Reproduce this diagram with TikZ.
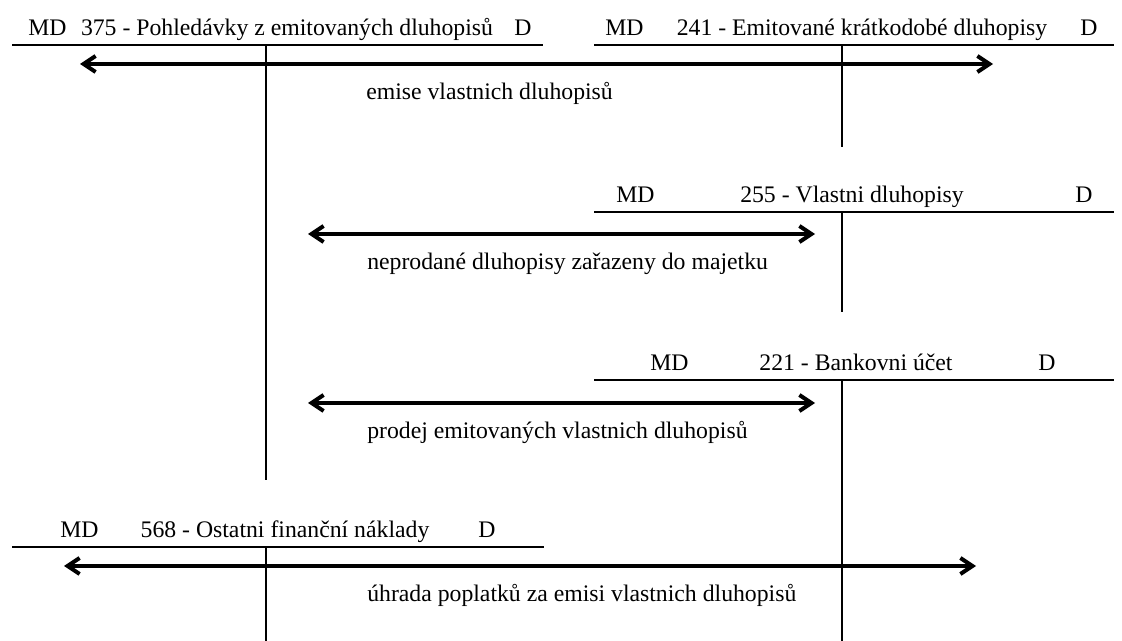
\documentclass[tikz,border=0pt]{standalone}
\usepackage{fontspec}
\setmainfont{Liberation Serif}
\usetikzlibrary{arrows.meta}
\tikzset{ucet/.style={black,line width=1.5pt}}
\tikzset{pohyb/.style={black,line width=3pt,<->,>={Straight Barb[length=9pt,width=12pt]}}}
\tikzset{txt/.style={inner sep=0pt,anchor=base west,font=\fontsize{17.8}{20}\selectfont}}

\begin{document}
\begin{tikzpicture}[x=0.75pt,y=-0.75pt]
\useasboundingbox (0,0) rectangle (1122,641);

% 375
\node[txt] (md375) at (28,36) {MD};
\node[txt,anchor=base] (n375) at (287,36) {375 - Pohledávky z emitovaných dluhopisů};
\node[txt] (d375) at (514,36) {D};
\coordinate (u375l) at (12,45);
\coordinate (u375r) at (543,45);
\coordinate (u375t) at (266,45);
\coordinate (u375b) at (266,480);
\draw[ucet] (u375l)--(u375r) (u375t)--(u375b);

% 241
\node[txt] (md241) at (605,36) {MD};
\node[txt,anchor=base] (n241) at (862,36) {241 - Emitované krátkodobé dluhopisy};
\node[txt] (d241) at (1080,36) {D};
\coordinate (u241l) at (594,45);
\coordinate (u241r) at (1114,45);
\coordinate (u241t) at (842,45);
\coordinate (u241b) at (842,147);
\draw[ucet] (u241l)--(u241r) (u241t)--(u241b);

% 255
\node[txt] (md255) at (616,203) {MD};
\node[txt,anchor=base] (n255) at (852,203) {255 - Vlastni dluhopisy};
\node[txt] (d255) at (1075,203) {D};
\coordinate (u255l) at (594,212);
\coordinate (u255r) at (1114,212);
\coordinate (u255t) at (842,212);
\coordinate (u255b) at (842,312);
\draw[ucet] (u255l)--(u255r) (u255t)--(u255b);

% 221
\node[txt] (md221) at (650,371) {MD};
\node[txt,anchor=base] (n221) at (856,371) {221 - Bankovni účet};
\node[txt] (d221) at (1038,371) {D};
\coordinate (u221l) at (594,380);
\coordinate (u221r) at (1114,380);
\coordinate (u221t) at (842,380);
\coordinate (u221b) at (842,641);
\draw[ucet] (u221l)--(u221r) (u221t)--(u221b);

% 568
\node[txt] (md568) at (60,538) {MD};
\node[txt,anchor=base] (n568) at (285,538) {568 - Ostatni finanční náklady};
\node[txt] (d568) at (478,538) {D};
\coordinate (u568l) at (12,547);
\coordinate (u568r) at (544,547);
\coordinate (u568t) at (266,547);
\coordinate (u568b) at (266,641);
\draw[ucet] (u568l)--(u568r) (u568t)--(u568b);

% pohyby
\coordinate (p1l) at (80,64);
\coordinate (p1r) at (993,64);
\draw[pohyb] (p1l)--(p1r);
\node[txt] (popis1) at (366,100) {emise vlastnich dluhopisů};

\coordinate (p2l) at (308,234);
\coordinate (p2r) at (815,234);
\draw[pohyb] (p2l)--(p2r);
\node[txt] (popis2) at (367,270) {neprodané dluhopisy zařazeny do majetku};

\coordinate (p3l) at (308,403);
\coordinate (p3r) at (815,403);
\draw[pohyb] (p3l)--(p3r);
\node[txt] (popis3) at (367,439) {prodej emitovaných vlastnich dluhopisů};

\coordinate (p4l) at (64,566);
\coordinate (p4r) at (976,566);
\draw[pohyb] (p4l)--(p4r);
\node[txt] (popis4) at (367,602) {úhrada poplatků za emisi vlastnich dluhopisů};
\end{tikzpicture}
\end{document}
